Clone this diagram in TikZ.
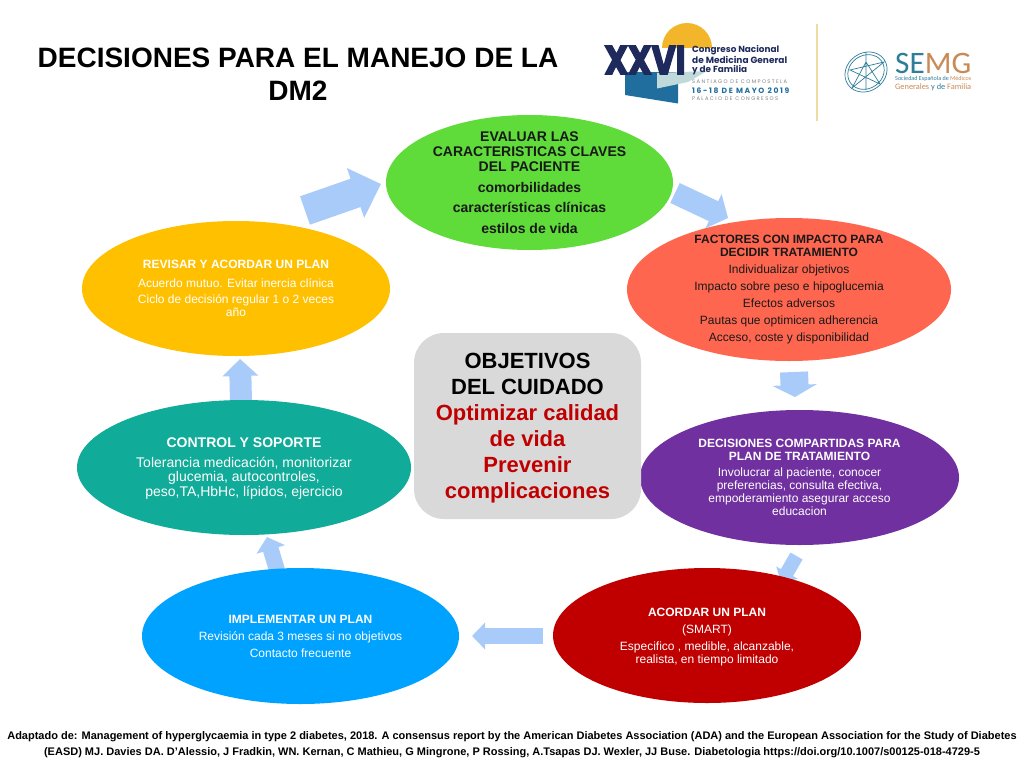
\documentclass[tikz,border=0pt]{standalone}
\usepackage{fontspec}
\setmainfont{Liberation Sans}
\newfontfamily\logofont{Poppins}
\newfontfamily\xxvifont[BoldFeatures={FakeBold=4}]{Poppins}
\newfontfamily\semgfont{Carlito}
\usetikzlibrary{shapes.geometric,arrows.meta}
\definecolor{cgreen}{HTML}{5FDB3A}
\definecolor{corange}{HTML}{FF6650}
\definecolor{cpurple}{HTML}{7030A0}
\definecolor{cdred}{HTML}{C00000}
\definecolor{cblue}{HTML}{00A2FF}
\definecolor{cteal}{HTML}{10AB99}
\definecolor{cyellow}{HTML}{FFC000}
\definecolor{cgrey}{HTML}{D9D9D9}
\definecolor{carrow}{HTML}{A9CBFA}
\definecolor{navy}{HTML}{1F2A5C}
\definecolor{lblue}{HTML}{1F6E9E}
\definecolor{lpale}{HTML}{BFDAD8}
\definecolor{lsun}{HTML}{F3B62B}
\definecolor{lgold}{HTML}{EFDCA0}
\definecolor{semgb}{HTML}{2E7D9A}
\definecolor{semgo}{HTML}{C98A55}
\newcommand{\fs}[2]{\fontsize{#1}{#2}\selectfont}
\tikzset{
  oval/.style n args={3}{ellipse,draw=none,fill=#1,minimum width=#2pt,minimum height=#3pt,inner sep=0pt},
  txt/.style n args={2}{align=center,inner sep=0pt,font=\fs{#1}{#2}},
  btxt/.style n args={2}{align=center,inner sep=0pt,font=\fs{#1}{#2}\bfseries},
  flow/.style n args={3}{draw=carrow,line width=#1pt,-{Triangle[width=#2pt,length=#3pt,sep=0pt]}},
  logotxt/.style={inner sep=0pt,anchor=west},
}
\begin{document}
\begin{tikzpicture}[x=1pt,y=-1pt]
\useasboundingbox (0,0) rectangle (1024,768);
\fill[white] (0,0) rectangle (1024,768);
% title
\node[btxt={28}{33}] (title) at (298,74.5) {DECISIONES PARA EL MANEJO DE LA\\DM2};
% logo
\fill[lsun] (662,48) arc (180:360:25) -- cycle;
\fill[lblue] (625,72) -- (678,72) -- (678,103.5) -- (625,95) -- cycle;
\fill[lpale] (657,73) -- (707,71) -- (688,82) -- (657,88.5) -- cycle;
\node[inner sep=0pt,text=navy] (xxvi) at (645,60) {\resizebox{81pt}{28pt}{\xxvifont\bfseries XXVI}};
\node[logotxt,text=navy] (l1) at (692,50) {\resizebox{87pt}{!}{\logofont\bfseries Congreso Nacional}};
\node[logotxt,text=navy] (l2) at (692,60) {\resizebox{95pt}{!}{\logofont\bfseries de Medicina General}};
\node[logotxt,text=navy] (l3) at (692,70) {\resizebox{55pt}{!}{\logofont\bfseries y de Familia}};
\node[logotxt,text=gray] (l4) at (692,82) {\resizebox{95pt}{!}{\logofont S A N T I A G O\ \ D E\ \ C O M P O S T E L A}};
\node[logotxt,text=lblue] (l5) at (692,91) {\resizebox{97pt}{!}{\logofont\bfseries 1 6 - 1 8\ \ D E\ \ M A Y O\ \ 2 0 1 9}};
\node[logotxt,text=gray] (l6) at (692,99) {\resizebox{86pt}{!}{\logofont P A L A C I O\ \ D E\ \ C O N G R E S O S}};
\draw[lgold,line width=1.5pt] (817,24) -- (817,121);
\draw[semgb,line width=0.7pt,rotate around={35:(866,72)}] (866,72) ellipse (22 and 19) (866,72) ellipse (19 and 16.5);
\draw[semgb,line width=0.7pt] (852,88) -- (866,62) -- (880,84) -- (850,70) -- (884,62) -- cycle (866,52) -- (866,90);
\node[logotxt] (sg) at (895,63) {\resizebox{76pt}{!}{\semgfont\textcolor{semgb}{SE}\textcolor{semgo}{MG}}};
\node[logotxt,text=semgb] (s1) at (895,79) {\resizebox{76pt}{!}{\semgfont Sociedad Española de \textcolor{semgo}{Médicos}}};
\node[logotxt,text=semgo] (s2) at (895,87) {\resizebox{76pt}{!}{\semgfont Generales \textcolor{semgb}{y de} Familia}};
% arrow end points
\coordinate (a1s) at (305,210.5); \coordinate (a1e) at (381,184);
\coordinate (a2s) at (675,193);   \coordinate (a2e) at (728,218);
\coordinate (a3s) at (794,372);   \coordinate (a3e) at (795,397);
\coordinate (a4s) at (796.5,556); \coordinate (a4e) at (781,583);
\coordinate (a5s) at (543,636);   \coordinate (a5e) at (472,636);
\coordinate (a6s) at (277,570);   \coordinate (a6e) at (267,537);
\coordinate (a7s) at (241,402);   \coordinate (a7e) at (240,359);
\draw[flow={30}{51}{27}] (a1s) -- (a1e);
\draw[flow={22}{37}{16}] (a2s) -- (a2e);
\draw[flow={28}{44}{12}] (a3s) -- (a3e);
\draw[flow={14}{24}{12}] (a4s) -- (a4e);
\draw[flow={16}{26}{13}] (a5s) -- (a5e);
\draw[flow={16}{29}{13}] (a6s) -- (a6e);
\draw[flow={22}{35}{17}] (a7s) -- (a7e);
% ellipses
\node[oval={cgreen}{287}{135}] (green) at (529.5,182.5) {};
\node[oval={corange}{324}{143}] (orange) at (789,289.5) {};
\node[oval={cpurple}{319}{135}] (purple) at (799.5,477.5) {};
\node[oval={cdred}{308}{135}] (dred) at (707,635.5) {};
\node[oval={cblue}{317}{136}] (blue) at (300.5,636) {};
\node[oval={cteal}{334}{135}] (teal) at (244,467.5) {};
\node[oval={cyellow}{308}{135}] (yellow) at (236,288.5) {};
\fill[cgrey,rounded corners=30pt] (414,333) rectangle (641,519);
\node[btxt={22}{26}] (center) at (527.5,428) {OBJETIVOS\\DEL CUIDADO\\\textcolor{cdred}{Optimizar calidad}\\\textcolor{cdred}{de vida}\\\textcolor{cdred}{Prevenir}\\\textcolor{cdred}{complicaciones}};
% ellipse texts
\node[btxt={14}{15},text=black!90] (greent) at (green) {EVALUAR LAS\\CARACTERISTICAS CLAVES\\DEL PACIENTE\\[5.5pt]comorbilidades\\[5.5pt]características clínicas\\[5.5pt]estilos de vida};
\node[txt={12}{13},text=black!90] (oranget) at (orange) {\textbf{FACTORES CON IMPACTO PARA}\\\textbf{DECIDIR TRATAMIENTO}\\[4pt]Individualizar objetivos\\[4pt]Impacto sobre peso e hipoglucemia\\[4pt]Efectos adversos\\[4pt]Pautas que optimicen adherencia\\[4pt]Acceso, coste y disponibilidad};
\node[txt={12}{13},text=white] (purplet) at (purple) {\textbf{DECISIONES COMPARTIDAS PARA}\\\textbf{PLAN DE TRATAMIENTO}\\[3pt]Involucrar al paciente, conocer\\preferencias, consulta efectiva,\\empoderamiento asegurar acceso\\educacion};
\node[txt={12}{13},text=white] (dredt) at ([yshift=-1.5pt]dred.center) {\textbf{ACORDAR UN PLAN}\\[4pt](SMART)\\[4pt]Especifico , medible, alcanzable,\\realista, en tiempo limitado};
\node[txt={12}{13},text=white] (bluet) at (blue) {\textbf{IMPLEMENTAR UN PLAN}\\[4pt]Revisión cada 3 meses si no objetivos\\[4pt]Contacto frecuente};
\node[txt={14}{14.5},text=white] (tealt) at ([yshift=-1pt]teal.center) {\textbf{CONTROL Y SOPORTE}\\[5pt]Tolerancia medicación, monitorizar\\glucemia, autocontroles,\\peso,TA,HbHc, lípidos, ejercicio};
\node[txt={12}{13},text=white] (yellowt) at (yellow) {\textbf{REVISAR Y ACORDAR UN PLAN}\\[6pt]Acuerdo mutuo. Evitar inercia clínica\\[3.5pt]Ciclo de decisión regular 1 o 2 veces\\año};
% footer
\node[btxt={11}{15.5}] (foot) at (512,744.5) {Adaptado de: Management of hyperglycaemia in type 2 diabetes, 2018. A consensus report by the American Diabetes Association (ADA) and the European Association for the Study of Diabetes\\(EASD) MJ. Davies DA. D’Alessio, J Fradkin, WN. Kernan, C Mathieu, G Mingrone, P Rossing, A.Tsapas DJ. Wexler, JJ Buse. Diabetologia https://doi.org/10.1007/s00125-018-4729-5};
\end{tikzpicture}
\end{document}
